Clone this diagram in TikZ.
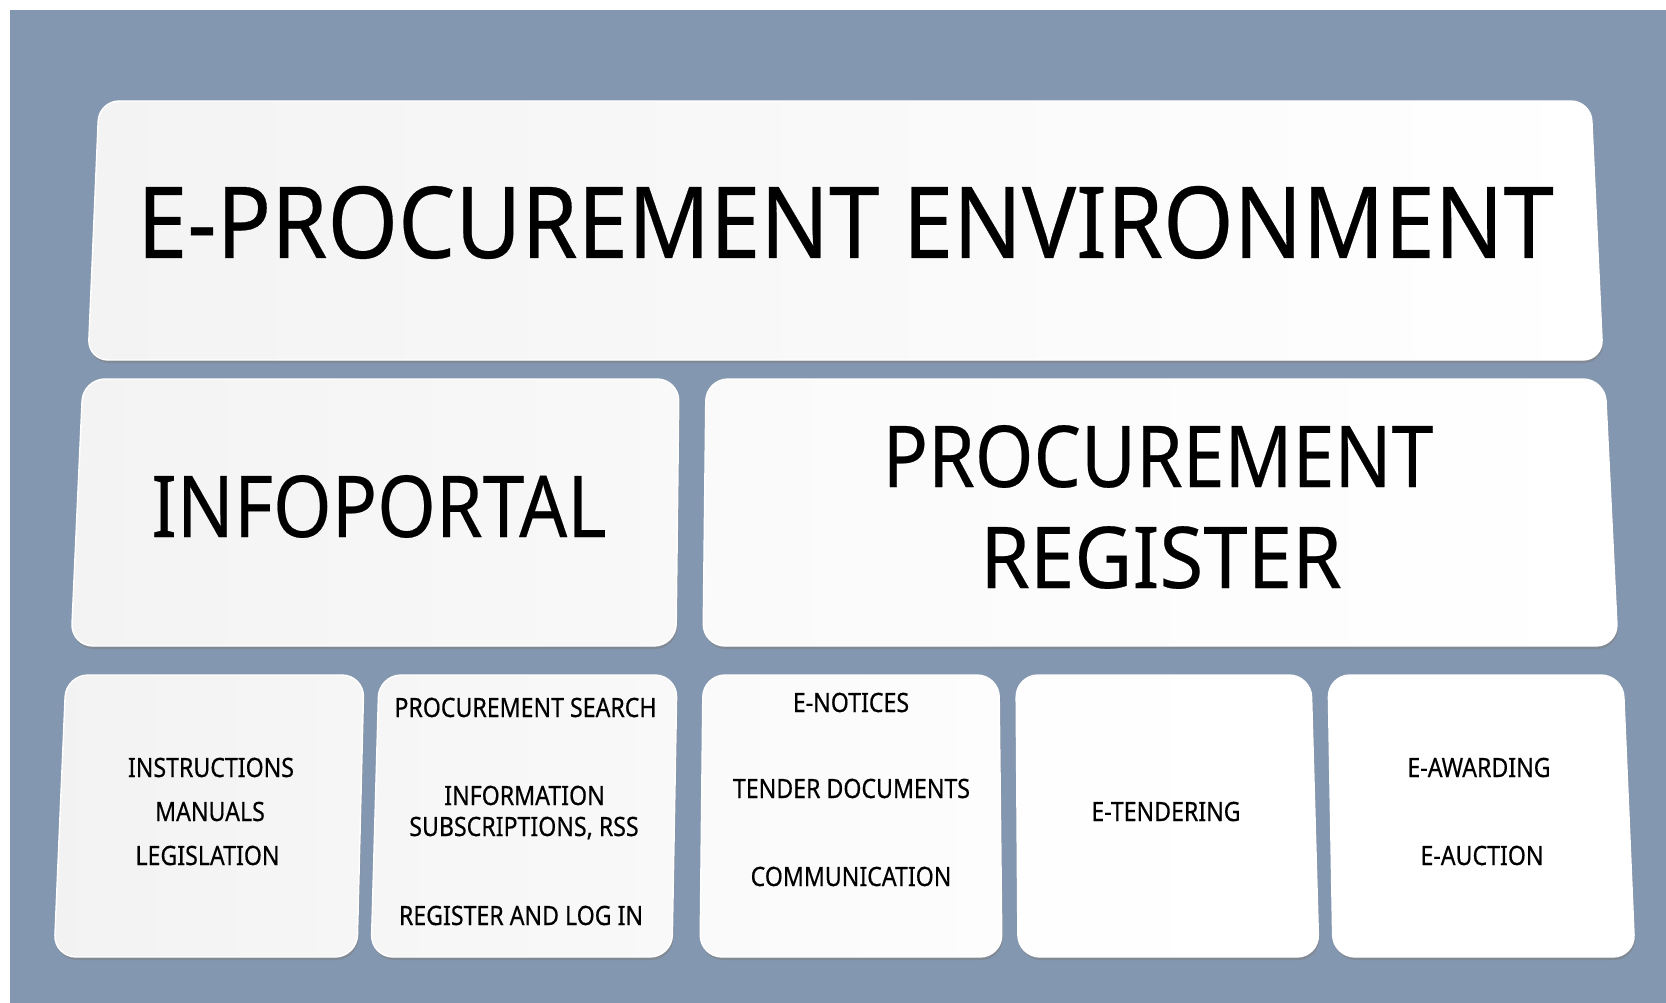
\documentclass[tikz,border=0pt]{standalone}
\usepackage{fontspec}
\setmainfont{Noto Sans}
\newfontfamily\smallfam[FakeBold=0.5]{Noto Sans}
\newfontfamily\bigfam[FakeBold=0.3]{Noto Sans}
\usepackage{graphicx}
\definecolor{bgblue}{HTML}{8497B0}
\definecolor{shadowgray}{HTML}{7F7F7F}
\begin{document}
\begin{tikzpicture}[x=1pt,y=-1pt,
  panel/.style={rounded corners=#1, draw=white, line width=1.4pt},
  panel/.default=22pt,
  shadowpanel/.style={fill=shadowgray, fill opacity=0.55, rounded corners=#1},
  shadowpanel/.default=22pt,
  bigtxt/.style={anchor=base, inner sep=0pt, font=\bigfam\fontsize{85.4pt}{90pt}\selectfont},
  titletxt/.style={anchor=base, inner sep=0pt, font=\bigfam\fontsize{99.4pt}{104pt}\selectfont},
  smalltxt/.style={anchor=base, inner sep=0pt, font=\smallfam\fontsize{26.6pt}{30pt}\selectfont}
]
\useasboundingbox (0,0) rectangle (1666,1003);
\fill[white] (0,0) rectangle (1666,1003);
\fill[bgblue] (10,10) rectangle (1666,1003);

% ---------- shadows ----------
\begin{scope}[shift={(1,3)}]
\fill[shadowpanel=20pt] (99,101) -- (1591,101) -- (1603,360) -- (88,360) -- cycle;
\fill[shadowpanel] (83,379) -- (679,379) -- (676,646) -- (71,646) -- cycle;
\fill[shadowpanel] (706,379) -- (1605,379) -- (1618,646) -- (703,646) -- cycle;
\fill[shadowpanel] (66,675) -- (364,675) -- (357,957) -- (54,957) -- cycle;
\fill[shadowpanel] (379,675) -- (677,675) -- (672,957) -- (371,957) -- cycle;
\fill[shadowpanel] (703,675) -- (999,675) -- (1002,957) -- (700,957) -- cycle;
\fill[shadowpanel] (1016,675) -- (1311,675) -- (1319,957) -- (1018,957) -- cycle;
\fill[shadowpanel] (1328,675) -- (1623,675) -- (1635,957) -- (1333,957) -- cycle;
\end{scope}

% ---------- panels ----------
\draw[panel=20pt, left color=white!95.3!black, right color=white] (99,101) -- (1591,101) -- (1603,360) -- (88,360) -- cycle;
\draw[panel, left color=white!95.3!black, right color=white!97.6!black] (83,379) -- (679,379) -- (676,646) -- (71,646) -- cycle;
\draw[panel, left color=white!98!black, right color=white] (706,379) -- (1605,379) -- (1618,646) -- (703,646) -- cycle;
\draw[panel, left color=white!95!black, right color=white!96.5!black] (66,675) -- (364,675) -- (357,957) -- (54,957) -- cycle;
\draw[panel, left color=white!96.5!black, right color=white!97.6!black] (379,675) -- (677,675) -- (672,957) -- (371,957) -- cycle;
\draw[panel, left color=white!98!black, right color=white!99.2!black] (703,675) -- (999,675) -- (1002,957) -- (700,957) -- cycle;
\draw[panel, left color=white!99.6!black, right color=white] (1016,675) -- (1311,675) -- (1319,957) -- (1018,957) -- cycle;
\draw[panel, fill=white] (1328,675) -- (1623,675) -- (1635,957) -- (1333,957) -- cycle;

% ---------- texts ----------
\node[titletxt] (title) at (845.5,258) {\scalebox{0.91}[1]{E-PROCUREMENT ENVIRONMENT}};
\node[bigtxt] (info) at (379,537) {\scalebox{0.88}[1]{INFOPORTAL}};
\node[bigtxt] (reg1) at (1158,487) {\scalebox{0.88}[1]{PROCUREMENT}};
\node[bigtxt] (reg2) at (1161,588) {\scalebox{0.935}[1]{REGISTER}};

\node[smalltxt] (t11) at (211,777) {\scalebox{0.87}[1]{INSTRUCTIONS}};
\node[smalltxt] (t12) at (210,821) {\scalebox{0.87}[1]{MANUALS}};
\node[smalltxt] (t13) at (207.5,865) {\scalebox{0.87}[1]{LEGISLATION}};

\node[smalltxt] (t21) at (525.5,717) {\scalebox{0.87}[1]{PROCUREMENT SEARCH}};
\node[smalltxt] (t22) at (524.5,805) {\scalebox{0.87}[1]{INFORMATION}};
\node[smalltxt] (t23) at (524,836) {\scalebox{0.87}[1]{SUBSCRIPTIONS, RSS}};
\node[smalltxt] (t24) at (521,925) {\scalebox{0.87}[1]{REGISTER AND LOG IN}};

\node[smalltxt] (t31) at (851,712) {\scalebox{0.87}[1]{E-NOTICES}};
\node[smalltxt] (t32) at (851.5,798) {\scalebox{0.87}[1]{TENDER DOCUMENTS}};
\node[smalltxt] (t33) at (851,886) {\scalebox{0.87}[1]{COMMUNICATION}};

\node[smalltxt] (t41) at (1166,821) {\scalebox{0.87}[1]{E-TENDERING}};

\node[smalltxt] (t51) at (1479,777) {\scalebox{0.87}[1]{E-AWARDING}};
\node[smalltxt] (t52) at (1482,865) {\scalebox{0.87}[1]{E-AUCTION}};
\end{tikzpicture}
\end{document}
